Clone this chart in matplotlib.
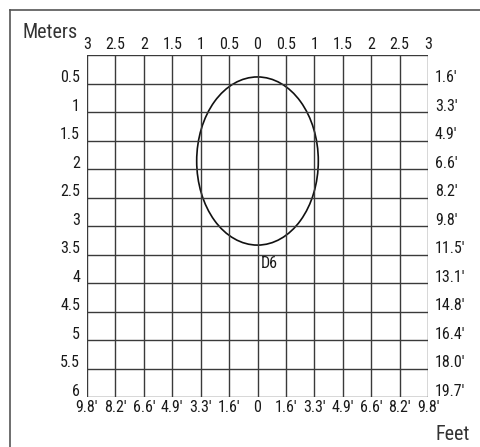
import matplotlib
matplotlib.use("Agg")
import matplotlib.pyplot as plt
from matplotlib.patches import Ellipse
from matplotlib.lines import Line2D
from matplotlib import font_manager
import matplotlib.transforms as mtransforms

_available = {f.name for f in font_manager.fontManager.ttflist}
_candidates = ['Roboto Condensed', 'Archivo Narrow', 'PT Sans Narrow', 'IBM Plex Sans Condensed',
               'Encode Sans Condensed', 'Liberation Sans Narrow', 'Pragati Narrow', 'Liberation Sans']
_fam = [c for c in _candidates if c in _available][:1] + ['DejaVu Sans']
plt.rcParams['font.family'] = _fam

# Data
x_meters = [-3, -2.5, -2, -1.5, -1, -0.5, 0, 0.5, 1, 1.5, 2, 2.5, 3]
x_meter_labels = ['3', '2.5', '2', '1.5', '1', '0.5', '0', '0.5', '1', '1.5', '2', '2.5', '3']
x_feet_labels = ["9.8'", "8.2'", "6.6'", "4.9'", "3.3'", "1.6'", '0', "1.6'", "3.3'", "4.9'", "6.6'", "8.2'", "9.8'"]
y_meters = [0.5, 1, 1.5, 2, 2.5, 3, 3.5, 4, 4.5, 5, 5.5, 6]
y_meter_labels = ['0.5', '1', '1.5', '2', '2.5', '3', '3.5', '4', '4.5', '5', '5.5', '6']
y_feet_labels = ["1.6'", "3.3'", "4.9'", "6.6'", "8.2'", "9.8'", "11.5'", "13.1'", "14.8'", "16.4'", "18.0'", "19.7'"]

ellipse_center = (0.0, 1.86)
ellipse_width = 2.14
ellipse_height = 2.95
ellipse_label = 'D6'
ellipse_label_pos = (0.2, 3.65)

W, H = 480, 447
fig = plt.figure(figsize=(W / 100, H / 100), dpi=100)

# outer border (top and left)
fig.add_artist(Line2D([10 / W, 1.0], [1 - 10 / H, 1 - 10 / H], color='#555555', lw=1.2))
fig.add_artist(Line2D([10 / W, 10 / W], [0.0, 1 - 10 / H], color='#555555', lw=1.2))

left, right, top, bottom = 87, 428, 55, 397
ax = fig.add_axes([left / W, 1 - bottom / H, (right - left) / W, (bottom - top) / H])
ax.set_xlim(-3, 3)
ax.set_ylim(6, 0)

gc = '#3a3a3a'
for x in x_meters:
    ax.axvline(x, color=gc, lw=1.0)
for y in [0] + y_meters:
    ax.axhline(y, color=gc, lw=1.0)

for s in ax.spines.values():
    s.set_visible(False)

fs = 11.5
tc = '#1a1a1a'
ax.set_xticks(x_meters)
ax.set_xticklabels(x_meter_labels)
ax.set_yticks(y_meters)
ax.set_yticklabels(y_meter_labels)
ax.tick_params(axis='both', length=0, labelsize=fs, colors=tc)
ax.tick_params(axis='x', top=True, labeltop=True, bottom=False, labelbottom=False, pad=2)
ax.tick_params(axis='y', pad=5)

ax2 = ax.secondary_xaxis('bottom')
ax2.set_xticks(x_meters)
ax2.set_xticklabels(x_feet_labels)
ax2.tick_params(length=0, labelsize=fs, colors=tc, pad=2)
ax2.spines['bottom'].set_visible(False)

ay2 = ax.secondary_yaxis('right')
ay2.set_yticks(y_meters)
ay2.set_yticklabels(y_feet_labels)
ay2.tick_params(length=0, labelsize=fs, colors=tc, pad=5)
ay2.spines['right'].set_visible(False)

up = mtransforms.ScaledTranslation(0, 1 / 72, fig.dpi_scale_trans)
for lab in ax.get_yticklabels() + ay2.get_yticklabels():
    lab.set_verticalalignment('baseline')
    lab.set_transform(lab.get_transform() + up)

e = Ellipse(ellipse_center, ellipse_width, ellipse_height, fill=False, ec='#111111', lw=1.2)
ax.add_patch(e)
ax.text(ellipse_label_pos[0], ellipse_label_pos[1], ellipse_label, ha='center', va='center',
        fontsize=fs, color=tc)

fig.text(22 / W, 1 - 33 / H, 'Meters', ha='left', va='center', fontsize=14.5, color='#333333')
fig.text(470 / W, 1 - 435 / H, 'Feet', ha='right', va='center', fontsize=14.5, color='#333333')

fig.savefig('out.png', dpi=100)
